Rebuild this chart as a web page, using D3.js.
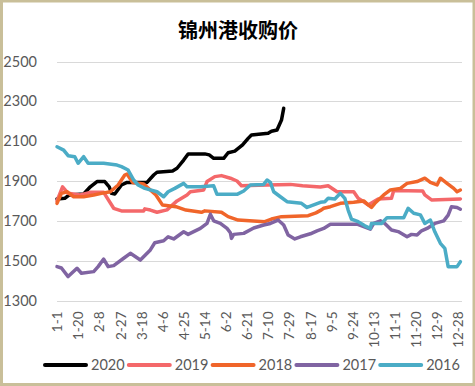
<!DOCTYPE html>
<html>
<head>
<meta charset="utf-8">
<script src="https://cdn.jsdelivr.net/npm/d3@7/dist/d3.min.js"></script>
<style>
html,body{margin:0;padding:0;background:#fff;}
svg{display:block;}
</style>
</head>
<body>
<svg id="chart" width="475" height="386"></svg>
<script>
const title = "锦州港收购价";
const yTicks = [1300, 1500, 1700, 1900, 2100, 2300, 2500];
const tickLabels = ["1-1","1-20","2-8","2-27","3-18","4-6","4-25","5-14","6-2","6-21","7-10","7-29","8-17","9-5","9-24","10-13","11-1","11-20","12-9","12-28"];
const seriesNames = ["2020","2019","2018","2017","2016"];
const seriesColors = ["#000000","#f4686a","#f0652a","#8064a2","#4bacc6"];

const dates2020 = ["1-1","1-8","1-12","1-25","1-31","2-6","2-13","2-17","2-19","2-22","2-28","3-5","3-23","3-29","4-1","4-15","4-19","4-25","4-29","5-14","5-18","5-22","5-31","6-4","6-10","6-17","6-22","6-25","7-10","7-13","7-18","7-22","7-24"];
const values2020 = [1810,1813,1830,1835,1871,1897,1897,1871,1838,1835,1880,1893,1893,1930,1944,1950,1964,2005,2036,2036,2031,2014,2014,2042,2050,2081,2114,2131,2140,2150,2156,2206,2265];

const dates2019 = ["1-1","1-6","1-11","1-22","1-31","2-12","2-21","2-28","3-20","3-21","3-26","4-1","4-10","4-19","4-28","5-1","5-13","5-16","5-23","5-29","6-6","6-12","6-16","7-9","7-30","8-10","8-26","9-2","9-10","9-25","9-29","10-4","10-8","10-17","10-29","10-31","11-26","11-28","12-4","12-30"];
const values2019 = [1800,1871,1838,1830,1843,1843,1763,1750,1750,1760,1754,1743,1755,1800,1830,1846,1855,1897,1922,1927,1914,1900,1876,1880,1883,1876,1870,1876,1846,1846,1813,1796,1780,1810,1813,1852,1850,1830,1805,1810];

const dates2018 = ["1-1","1-5","1-10","1-16","1-25","2-3","2-10","2-18","2-25","3-3","3-5","3-10","3-20","3-31","4-6","4-18","4-27","5-11","5-14","5-29","6-4","6-13","7-7","7-13","7-22","8-15","8-22","8-27","8-29","9-4","9-13","9-25","10-4","10-8","10-11","10-14","10-22","10-28","11-6","11-12","11-21","11-28","12-3","12-9","12-12","12-18","12-24","12-27","12-30"];
const values2018 = [1788,1838,1846,1821,1821,1830,1838,1846,1880,1930,1935,1893,1885,1830,1779,1771,1754,1743,1750,1743,1721,1704,1696,1709,1721,1726,1740,1755,1763,1771,1788,1793,1800,1780,1767,1788,1830,1855,1863,1888,1897,1914,1893,1880,1914,1888,1863,1846,1855];

const dates2017 = ["1-1","1-5","1-11","1-19","1-23","2-3","2-7","2-12","2-16","2-21","3-2","3-8","3-17","3-26","3-30","4-7","4-11","4-16","4-25","4-29","5-10","5-16","5-19","5-22","5-28","6-3","6-6","6-7","6-9","6-18","6-27","7-6","7-12","7-19","7-24","7-28","8-3","8-8","8-17","8-23","8-29","9-4","9-28","10-4","10-10","10-13","10-19","10-23","10-29","11-4","11-12","11-16","11-21","11-25","11-30","12-7","12-15","12-19","12-22","12-27","12-30"];
const values2017 = [1470,1463,1420,1462,1437,1445,1470,1508,1470,1475,1512,1537,1503,1554,1590,1600,1620,1609,1645,1632,1662,1687,1733,1700,1687,1662,1640,1612,1632,1637,1664,1679,1687,1704,1679,1629,1609,1620,1635,1650,1662,1683,1683,1671,1658,1687,1700,1687,1654,1646,1620,1632,1629,1650,1662,1687,1700,1729,1771,1767,1758];

const dates2016 = ["1-1","1-7","1-11","1-17","1-20","1-25","1-29","2-12","2-24","2-28","3-6","3-11","3-15","3-21","4-1","4-7","4-11","4-17","4-25","4-28","5-10","5-22","5-25","6-12","6-18","6-24","7-6","7-9","7-12","7-15","7-21","7-27","8-9","8-14","8-20","8-26","8-30","9-2","9-8","9-13","9-17","9-20","9-23","9-29","10-5","10-10","10-11","10-20","10-25","11-9","11-13","11-18","11-24","11-28","12-3","12-7","12-12","12-16","12-19","12-27","12-30"];
const values2016 = [2072,2055,2027,2022,1989,2022,1989,1989,1980,1972,1955,1905,1880,1863,1846,1821,1846,1863,1888,1871,1871,1876,1833,1833,1850,1880,1883,1905,1893,1846,1821,1796,1788,1767,1780,1793,1796,1813,1810,1838,1813,1754,1709,1696,1675,1662,1687,1687,1716,1716,1763,1738,1730,1687,1704,1645,1587,1562,1470,1470,1495];

const seriesDates = [dates2020, dates2019, dates2018, dates2017, dates2016];
const seriesValues = [values2020, values2019, values2018, values2017, values2016];

// all day categories of a (non-leap) year
const fmt = d3.timeFormat("%-m-%-d");
const categories = d3.timeDay.range(new Date(2019,0,1), new Date(2020,0,1)).map(fmt);

const W = 475, H = 386;
const svg = d3.select("#chart");
const border = 3;
svg.append("rect").attr("x",0).attr("y",0).attr("width",W).attr("height",H).attr("fill","#c9bf99");
svg.append("rect").attr("x",border).attr("y",border-0.5).attr("width",W-2*border+0.5).attr("height",H-2*border+0.5).attr("fill","#ffffff");

const x = d3.scalePoint().domain(categories).range([57, 461.5]);
const y = d3.scaleLinear().domain([1300, 2500]).range([300.5, 61.5]);

// title
svg.append("text").attr("x", 238).attr("y", 38).attr("text-anchor","middle")
  .attr("font-family","'Noto Sans CJK SC', sans-serif").attr("font-weight","bold")
  .attr("font-size", 20).attr("fill","#000").text(title);

// grid + y labels
const yAxis = d3.axisLeft(y).tickValues(yTicks).tickFormat(d3.format("d")).tickSize(-(461.5-57)).tickPadding(20);
const gy = svg.append("g").attr("transform","translate(57,0)").call(yAxis);
gy.select(".domain").remove();
gy.selectAll(".tick line").attr("stroke","#d9d9d9").attr("stroke-width",1).attr("shape-rendering","crispEdges");
gy.selectAll(".tick text").attr("font-family","Lato, 'Open Sans', sans-serif").attr("font-size",14.5).attr("fill","#595959");

// x labels
const xAxis = d3.axisBottom(x).tickValues(tickLabels).tickSize(0).tickPadding(0);
const gx = svg.append("g").attr("transform","translate(0,300.5)").call(xAxis);
gx.select(".domain").remove();
gx.selectAll(".tick text")
  .attr("font-family","Lato, 'Open Sans', sans-serif").attr("font-size",13.5).attr("fill","#595959")
  .attr("text-anchor","end").attr("dy","0.35em")
  .attr("transform","translate(0,11) rotate(-90)").attr("x",0).attr("y",0);

// lines
const line = d3.line().x(d => x(d[0])).y(d => y(d[1]));
seriesNames.forEach((name, i) => {
  const pts = seriesDates[i].map((d, j) => [d, seriesValues[i][j]]);
  svg.append("path").datum(pts).attr("d", line)
    .attr("fill","none").attr("stroke", seriesColors[i]).attr("stroke-width",3.5)
    .attr("stroke-linejoin","round").attr("stroke-linecap","round");
});

// legend
const lg = svg.append("g").attr("transform","translate(45,365)");
const itemW = 83.8;
seriesNames.forEach((name, i) => {
  const g = lg.append("g").attr("transform", `translate(${i*itemW},0)`);
  g.append("line").attr("x1",0).attr("x2",41).attr("y1",0).attr("y2",0)
    .attr("stroke", seriesColors[i]).attr("stroke-width",4).attr("stroke-linecap","round");
  g.append("text").attr("x",46).attr("y",0).attr("dy","0.35em")
    .attr("font-family","Lato, 'Open Sans', sans-serif").attr("font-size",14.5).attr("fill","#595959").text(name);
});
</script>
</body>
</html>
